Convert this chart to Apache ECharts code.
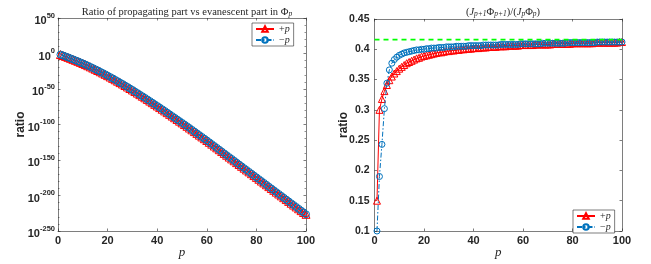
<!DOCTYPE html>
<html><head><meta charset="utf-8">
<script src="https://cdn.jsdelivr.net/npm/echarts@6/dist/echarts.min.js"></script>
<style>html,body{margin:0;padding:0;background:#fff}#c{width:651px;height:264px}</style>
</head><body><div id="c"></div>
<script>
// ---------- data ----------
const pValues = [1,2,3,4,5,6,7,8,9,10,11,12,13,14,15,16,17,18,19,20,21,22,23,24,25,26,27,28,29,30,31,32,33,34,35,36,37,38,39,40,41,42,43,44,45,46,47,48,49,50,51,52,53,54,55,56,57,58,59,60,61,62,63,64,65,66,67,68,69,70,71,72,73,74,75,76,77,78,79,80,81,82,83,84,85,86,87,88,89,90,91,92,93,94,95,96,97,98,99,100];

// left panel: log10 of ratio (exponents)
const ratioPlusExp = [-1.5,-2.8,-4.1,-5.4,-6.8,-8.2,-9.6,-11.0,-12.5,-14.0,-15.6,-17.2,-18.8,-20.5,-22.2,-23.9,-25.7,-27.5,-29.3,-31.2,-33.1,-35.0,-37.0,-39.0,-41.0,-43.0,-45.1,-47.2,-49.3,-51.4,-53.6,-55.8,-58.0,-60.2,-62.4,-64.7,-67.0,-69.3,-71.6,-73.9,-76.2,-78.5,-80.9,-83.3,-85.7,-88.1,-90.5,-92.9,-95.3,-97.7,-100.1,-102.5,-105.0,-107.5,-110.0,-112.5,-115.0,-117.5,-120.0,-122.5,-125.1,-127.7,-130.3,-132.9,-135.5,-138.1,-140.7,-143.3,-145.9,-148.5,-151.1,-153.7,-156.3,-158.9,-161.5,-164.1,-166.7,-169.3,-171.9,-174.5,-177.1,-179.7,-182.3,-184.9,-187.5,-190.1,-192.7,-195.3,-197.9,-200.5,-203.1,-205.7,-208.3,-210.9,-213.5,-216.1,-218.7,-221.3,-223.9,-226.5];
const ratioMinusExp = [-1.5,-2.8,-4.1,-5.4,-6.8,-8.2,-9.6,-11.0,-12.5,-14.0,-15.6,-17.2,-18.8,-20.5,-22.2,-23.9,-25.7,-27.5,-29.3,-31.2,-33.1,-35.0,-37.0,-39.0,-41.0,-43.0,-45.1,-47.2,-49.3,-51.4,-53.6,-55.8,-58.0,-60.2,-62.4,-64.7,-67.0,-69.3,-71.6,-73.9,-76.2,-78.5,-80.9,-83.3,-85.7,-88.1,-90.5,-92.9,-95.3,-97.7,-100.1,-102.5,-105.0,-107.5,-110.0,-112.5,-115.0,-117.5,-120.0,-122.5,-125.1,-127.7,-130.3,-132.9,-135.5,-138.1,-140.7,-143.3,-145.9,-148.5,-151.1,-153.7,-156.3,-158.9,-161.5,-164.1,-166.7,-169.3,-171.9,-174.5,-177.1,-179.7,-182.3,-184.9,-187.5,-190.1,-192.7,-195.3,-197.9,-200.5,-203.1,-205.7,-208.3,-210.9,-213.5,-216.1,-218.7,-221.3,-223.9,-226.5];

// right panel: (J_{p+1}Phi_{p+1})/(J_p Phi_p)
const quotPlus = [0.150,0.300,0.318,0.331,0.341,0.349,0.355,0.360,0.364,0.368,0.371,0.374,0.377,0.379,0.381,0.383,0.385,0.386,0.388,0.389,0.390,0.391,0.392,0.393,0.394,0.395,0.395,0.396,0.397,0.397,0.398,0.398,0.399,0.399,0.400,0.400,0.401,0.401,0.401,0.402,0.402,0.402,0.403,0.403,0.403,0.404,0.404,0.404,0.404,0.405,0.405,0.405,0.405,0.406,0.406,0.406,0.406,0.406,0.407,0.407,0.407,0.407,0.407,0.407,0.408,0.408,0.408,0.408,0.408,0.408,0.408,0.409,0.409,0.409,0.409,0.409,0.409,0.409,0.409,0.410,0.410,0.410,0.410,0.410,0.410,0.410,0.410,0.410,0.411,0.411,0.411,0.411,0.411,0.411,0.411,0.411,0.411,0.411,0.412,0.412];
const quotMinus = [0.100,0.190,0.243,0.302,0.344,0.366,0.377,0.383,0.387,0.390,0.392,0.394,0.395,0.396,0.397,0.398,0.399,0.399,0.400,0.400,0.401,0.401,0.402,0.402,0.402,0.403,0.403,0.403,0.404,0.404,0.404,0.404,0.405,0.405,0.405,0.405,0.405,0.406,0.406,0.406,0.406,0.406,0.406,0.407,0.407,0.407,0.407,0.407,0.407,0.407,0.408,0.408,0.408,0.408,0.408,0.408,0.408,0.408,0.409,0.409,0.409,0.409,0.409,0.409,0.409,0.409,0.409,0.410,0.410,0.410,0.410,0.410,0.410,0.410,0.410,0.410,0.410,0.411,0.411,0.411,0.411,0.411,0.411,0.411,0.411,0.411,0.411,0.411,0.411,0.412,0.412,0.412,0.412,0.412,0.412,0.412,0.412,0.412,0.412,0.412];
const limitLevel = 0.416;

// tick labels
const xTicks = [0,20,40,60,80,100];
const leftYExpTicks = [-250,-200,-150,-100,-50,0,50];
const rightYTicks = [0.1,0.15,0.2,0.25,0.3,0.35,0.4,0.45];
const seriesNames = ['+p','\u2212p'];

// ---------- styling ----------
const SANS = 'Liberation Sans, Arial, Helvetica, sans-serif';
const SERIF = 'Liberation Serif, Times New Roman, serif';
const AX = '#262626';
const RED = '#FF0000';
const BLUE = '#0072BD';
const GREEN = '#00FF00';
const DASHDOT = [5, 2, 1.5, 2];

function xAxis(gi, pos) {
  const main = pos === 'bottom';
  return {
    type: 'value', gridIndex: gi, position: pos,
    min: xTicks[0], max: xTicks[xTicks.length - 1], interval: xTicks[1] - xTicks[0],
    name: main ? 'p' : '', nameLocation: 'middle', nameGap: 15, nameMoveOverlap: false,
    nameTextStyle: { fontFamily: SERIF, fontStyle: 'italic', fontSize: 13, color: AX },
    axisLine: { show: true, onZero: false, lineStyle: { color: AX, width: 0.6 } },
    axisTick: { show: true, inside: true, length: 2.5, lineStyle: { color: AX, width: 0.6 } },
    axisLabel: { show: main, margin: 4, fontFamily: SANS, fontWeight: 'bold', fontSize: 11, color: AX },
    splitLine: { show: false }
  };
}
function yAxisLeft(pos) {
  const main = pos === 'left';
  return {
    type: 'value', gridIndex: 0, position: pos,
    min: leftYExpTicks[0], max: leftYExpTicks[leftYExpTicks.length - 1],
    interval: leftYExpTicks[1] - leftYExpTicks[0],
    name: main ? 'ratio' : '', nameLocation: 'middle', nameGap: 31, nameMoveOverlap: false,
    nameTextStyle: { fontFamily: SANS, fontWeight: 'bold', fontSize: 12, color: AX },
    axisLine: { show: true, onZero: false, lineStyle: { color: AX, width: 0.6 } },
    axisTick: { show: true, inside: true, length: 2.5, lineStyle: { color: AX, width: 0.6 } },
    minorTick: { show: true, splitNumber: 5, length: 1.5, lineStyle: { color: AX, width: 0.5 } },
    axisLabel: {
      show: main, margin: 3, padding: [4, 0, 0, 0],
      formatter: v => '{b|10}{s|' + v + '}',
      rich: {
        b: { fontFamily: SANS, fontWeight: 'bold', fontSize: 11, lineHeight: 13, verticalAlign: 'bottom', color: AX },
        s: { fontFamily: SANS, fontWeight: 'bold', fontSize: 7.5, lineHeight: 8, padding: [0, 0, 7, 0], verticalAlign: 'bottom', color: AX }
      }
    },
    splitLine: { show: false }
  };
}
function yAxisRight(pos) {
  const main = pos === 'left';
  return {
    type: 'value', gridIndex: 1, position: pos,
    min: rightYTicks[0], max: rightYTicks[rightYTicks.length - 1], interval: 0.05,
    name: main ? 'ratio' : '', nameLocation: 'middle', nameGap: 25, nameMoveOverlap: false,
    nameTextStyle: { fontFamily: SANS, fontWeight: 'bold', fontSize: 12, color: AX },
    axisLine: { show: true, onZero: false, lineStyle: { color: AX, width: 0.6 } },
    axisTick: { show: true, inside: true, length: 2.5, lineStyle: { color: AX, width: 0.6 } },
    axisLabel: { show: main, margin: 5, fontFamily: SANS, fontWeight: 'bold', fontSize: 10.5, color: AX },
    splitLine: { show: false }
  };
}

function pairs(ys) { return pValues.map((p, i) => [p, ys[i]]); }

const plusStyle = (gi, ys, size) => ({
  name: seriesNames[0], type: 'line', xAxisIndex: gi * 2, yAxisIndex: gi * 2,
  data: pairs(ys), symbol: 'triangle', symbolSize: size, showSymbol: true,
  lineStyle: { color: RED, width: 1 },
  itemStyle: { color: 'rgba(255,255,255,0)', borderColor: RED, borderWidth: 1 },
  animation: false, z: 2
});
const minusStyle = (gi, ys, size) => ({
  name: seriesNames[1], type: 'line', xAxisIndex: gi * 2, yAxisIndex: gi * 2,
  data: pairs(ys), symbol: 'circle', symbolSize: size, showSymbol: true,
  lineStyle: { color: BLUE, width: 1, type: DASHDOT },
  itemStyle: { color: 'rgba(255,255,255,0)', borderColor: BLUE, borderWidth: 1 },
  animation: false, z: 3
});

const legendCommon = {
  orient: 'vertical', itemWidth: 18, itemHeight: 7, itemGap: 1,
  padding: [1, 4, 1, 3], borderColor: AX, borderWidth: 0.6, backgroundColor: '#fff',
  data: seriesNames, selectedMode: false,
  formatter: n => (n === seriesNames[0] ? '+' : '\u2212') + '{i|p}',
  textStyle: { fontFamily: SERIF, fontSize: 10, lineHeight: 10, color: AX,
    rich: { i: { fontFamily: SERIF, fontStyle: 'italic', fontSize: 10, lineHeight: 10, color: AX } } }
};

const chart = echarts.init(document.getElementById('c'), null, { renderer: 'canvas' });
chart.setOption({
  animation: false,
  backgroundColor: '#fff',
  title: [
    {
      text: 'Ratio of propagating part vs evanescent part in \u03A6{sub|p}',
      left: 182, top: 2, textAlign: 'center',
      textStyle: { fontFamily: SERIF, fontWeight: 'normal', fontSize: 10.5, color: AX,
        rich: { sub: { fontFamily: SERIF, fontStyle: 'italic', fontSize: 7.5, verticalAlign: 'bottom', color: AX } } }
    },
    {
      text: '({i|J}{sub|p+1}\u03A6{sub|p+1})/({i|J}{sub|p}\u03A6{sub|p})',
      left: 498, top: 2, textAlign: 'center',
      textStyle: { fontFamily: SERIF, fontWeight: 'normal', fontSize: 10.5, color: AX,
        rich: {
          i: { fontFamily: SERIF, fontStyle: 'italic', fontSize: 10.5, color: AX },
          sub: { fontFamily: SERIF, fontStyle: 'italic', fontSize: 7.5, verticalAlign: 'bottom', color: AX }
        } }
    }
  ],
  legend: [
    Object.assign({}, legendCommon, { left: 252, top: 23 }),
    Object.assign({}, legendCommon, { left: 573, top: 210 })
  ],
  grid: [
    { left: 58, top: 18, width: 248, height: 217 },
    { left: 374.5, top: 19, width: 247.5, height: 216 }
  ],
  xAxis: [xAxis(0, 'bottom'), xAxis(0, 'top'), xAxis(1, 'bottom'), xAxis(1, 'top')],
  yAxis: [yAxisLeft('left'), yAxisLeft('right'), yAxisRight('left'), yAxisRight('right')],
  series: [
    plusStyle(0, ratioPlusExp, 8),
    minusStyle(0, ratioMinusExp, 7),
    plusStyle(1, quotPlus, 7),
    minusStyle(1, quotMinus, 6),
    {
      type: 'line', xAxisIndex: 2, yAxisIndex: 2,
      data: [[xTicks[0], limitLevel], [xTicks[xTicks.length - 1], limitLevel]],
      symbol: 'none', lineStyle: { color: GREEN, width: 1.6, type: [5, 4] },
      animation: false, z: 4, silent: true
    }
  ]
});
</script>
</body></html>
